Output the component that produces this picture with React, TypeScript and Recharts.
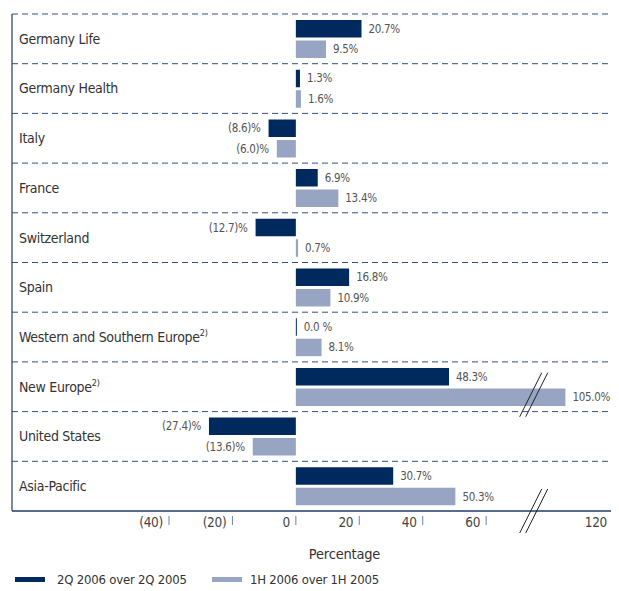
import React from 'react';
import {
  BarChart,
  Bar,
  XAxis,
  YAxis,
  CartesianGrid,
  LabelList,
  ReferenceDot,
} from 'recharts';

const categories = [
  'Germany Life',
  'Germany Health',
  'Italy',
  'France',
  'Switzerland',
  'Spain',
  'Western and Southern Europe',
  'New Europe',
  'United States',
  'Asia-Pacific',
];
const footnotes = ['', '', '', '', '', '', '2)', '2)', '', ''];

const seriesNames = ['2Q 2006 over 2Q 2005', '1H 2006 over 1H 2005'];
const q2Values = [20.7, 1.3, -8.6, 6.9, -12.7, 16.8, 0.0, 48.3, -27.4, 30.7];
const h1Values = [9.5, 1.6, -6.0, 13.4, 0.7, 10.9, 8.1, 105.0, -13.6, 50.3];

const xTicks = [-40, -20, 0, 20, 40, 60, 120];

const DARK = '#002a5e';
const LIGHT = '#97a5c3';
const NAVY = '#1e3b6b';
const FONT = '"DejaVu Sans Condensed", "DejaVu Sans", sans-serif';

// axis is broken between 75 and 95: values past the break are shifted left
const BREAK_AT = 75;
const BREAK_GAP = 20;
const toAxis = (v: number) => (v > BREAK_AT ? v - BREAK_GAP : v);
const fromAxis = (v: number) => (v > BREAK_AT ? v + BREAK_GAP : v);

const data = categories.map((name, i) => ({
  name,
  q2: q2Values[i],
  h1: h1Values[i],
  q2Plot: toAxis(q2Values[i]),
  h1Plot: toAxis(h1Values[i]),
}));

const fmtTick = (v: number) => {
  const real = fromAxis(v);
  return real < 0 ? `(${Math.abs(real)})` : `${real}`;
};

const fmtValue = (v: number) => {
  if (v < 0) return `(${Math.abs(v).toFixed(1)})%`;
  if (v === 0) return '0.0 %';
  return `${v.toFixed(1)}%`;
};

const ValueLabel = (props: any) => {
  const { x, y, width, height, value } = props;
  const neg = value < 0;
  const end = neg ? Math.min(x, x + width) : Math.max(x, x + width);
  return (
    <text
      x={neg ? end - 8 : end + 7}
      y={y + height / 2}
      textAnchor={neg ? 'end' : 'start'}
      dominantBaseline="central"
      fontSize={11.5}
      letterSpacing={-0.3}
      fill="#555"
      fontFamily={FONT}
    >
      {fmtValue(value)}
    </text>
  );
};

const CategoryTick = (props: any) => {
  const { x, y, payload } = props;
  const note = footnotes[categories.indexOf(payload.value)];
  return (
    <text x={x + 7} y={y} dy="0.35em" fontSize={14} letterSpacing={-0.3} fill="#333" fontFamily={FONT}>
      {payload.value}
      {note ? (
        <tspan dy={-6} fontSize={9} letterSpacing={-0.2}>
          {note}
        </tspan>
      ) : null}
    </text>
  );
};

const BreakMark = ({ cx, cy }: { cx: number; cy: number }) => (
  <g stroke="#222" strokeWidth={1}>
    <line x1={cx - 3 + 11} y1={cy - 22} x2={cx - 3 - 11} y2={cy + 22} />
    <line x1={cx + 3 + 11} y1={cy - 22} x2={cx + 3 - 11} y2={cy + 22} />
  </g>
);

const ValueTick = (props: any) => {
  const { x, y, payload } = props;
  if (payload.value === BREAK_AT) return <BreakMark cx={x} cy={y} />;
  return (
    <g>
      <line x1={x} x2={x} y1={y + 5} y2={y + 14} stroke="#6a82ad" strokeWidth={1} />
      <text
        x={x - 6}
        y={y + 11}
        textAnchor="end"
        dominantBaseline="central"
        fontSize={13.5}
        letterSpacing={-0.3}
        fill="#444"
        fontFamily={FONT}
      >
        {fmtTick(payload.value)}
      </text>
    </g>
  );
};

const AxisTitle = (props: any) => {
  const { viewBox } = props;
  return (
    <text
      x={viewBox.x + viewBox.width / 2 + 32}
      y={viewBox.y + 43}
      textAnchor="middle"
      dominantBaseline="central"
      fontSize={14.5}
      letterSpacing={-0.2}
      fill="#333"
      fontFamily={FONT}
    >
      Percentage
    </text>
  );
};

const legendLeft = [15, 212];

const App: React.FC = () => {
  return (
    <div style={{ position: 'relative', width: 619, height: 591, margin: '-8px 0 0 -8px', fontFamily: FONT }}>
      <BarChart
        width={619}
        height={591}
        data={data}
        layout="vertical"
        margin={{ top: 14, right: 6, bottom: 0, left: 11 }}
        barSize={17.5}
        barGap={3}
      >
        <CartesianGrid
          vertical={false}
          stroke="#34527f"
          strokeDasharray="6 4"
          horizontalCoordinatesGenerator={({ offset }: any) =>
            categories.map((_, i) => offset.top + (i * offset.height) / categories.length)
          }
        />
        <XAxis
          type="number"
          domain={[-89.5, 100]}
          allowDataOverflow
          ticks={[...xTicks.map(toAxis), BREAK_AT]}
          interval={0}
          height={80}
          tickLine={false}
          tickSize={0}
          tickMargin={0}
          axisLine={{ stroke: NAVY, strokeWidth: 1.5 }}
          tick={<ValueTick />}
          label={<AxisTitle />}
        />
        <YAxis
          type="category"
          dataKey="name"
          width={1}
          interval={0}
          tickLine={false}
          tickSize={0}
          tickMargin={0}
          axisLine={{ stroke: NAVY, strokeWidth: 1.2 }}
          tick={<CategoryTick />}
        />
        <Bar dataKey="q2Plot" name={seriesNames[0]} fill={DARK} minPointSize={1} isAnimationActive={false}>
          <LabelList dataKey="q2" content={<ValueLabel />} />
        </Bar>
        <Bar dataKey="h1Plot" name={seriesNames[1]} fill={LIGHT} isAnimationActive={false}>
          <LabelList dataKey="h1" content={<ValueLabel />} />
        </Bar>
        <ReferenceDot
          x={BREAK_AT}
          y="New Europe"
          ifOverflow="visible"
          shape={(p: any) => <BreakMark cx={p.cx} cy={p.cy + 8} />}
        />
      </BarChart>

      {/* legend */}
      {seriesNames.map((s, i) => (
        <div
          key={s}
          style={{
            position: 'absolute',
            left: legendLeft[i],
            top: 572,
            display: 'flex',
            alignItems: 'center',
            fontSize: 13,
            letterSpacing: -0.2,
            color: '#333',
            whiteSpace: 'nowrap',
          }}
        >
          <div style={{ width: 30, height: 5, background: i === 0 ? DARK : LIGHT, marginRight: i === 0 ? 12 : 8 }} />
          <span>{s}</span>
        </div>
      ))}
    </div>
  );
};

export default App;
